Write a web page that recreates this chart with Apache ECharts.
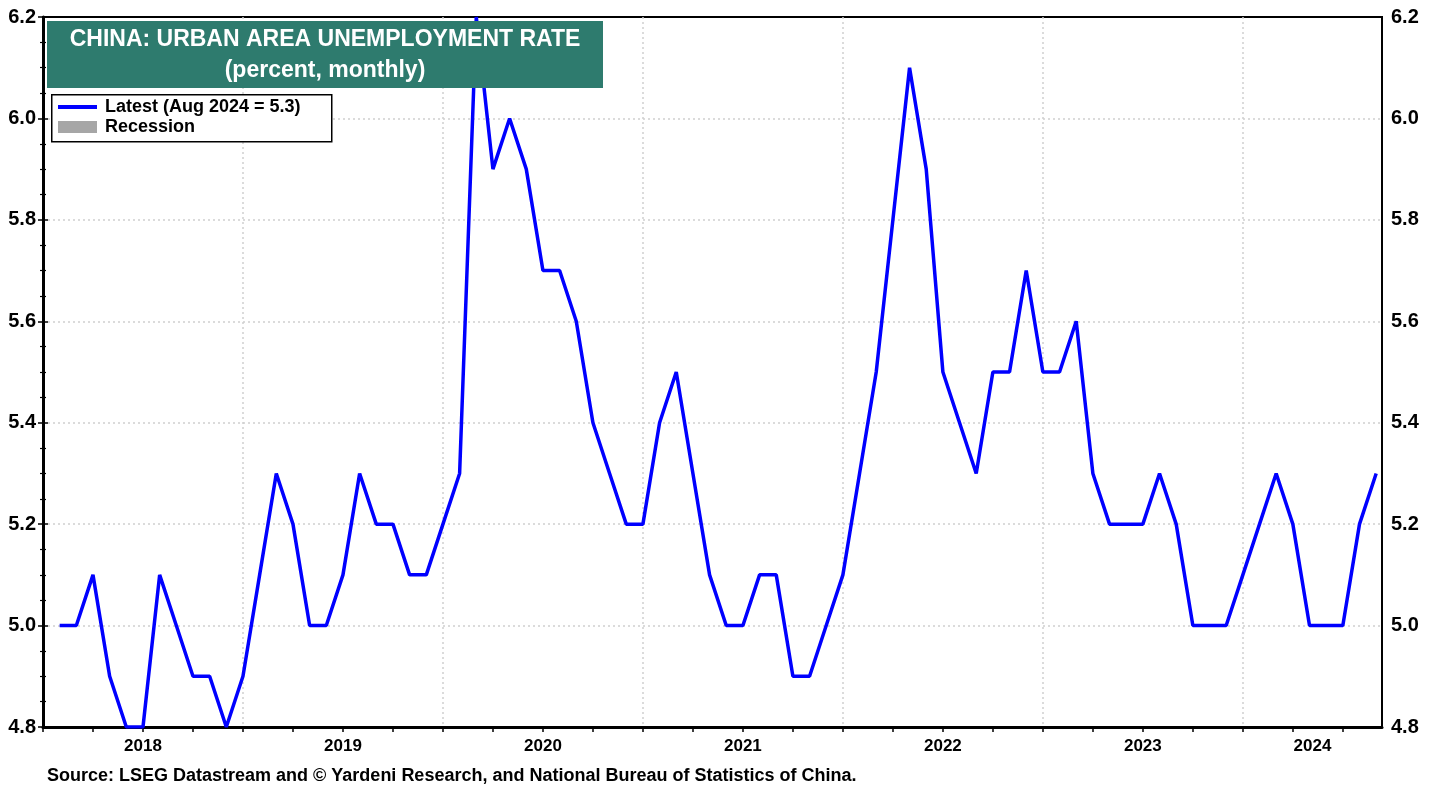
<!DOCTYPE html>
<html>
<head>
<meta charset="utf-8">
<title>China: Urban Area Unemployment Rate</title>
<script src="https://cdn.jsdelivr.net/npm/echarts@6/dist/echarts.min.js"></script>
<style>
    html, body { margin: 0; padding: 0; background: #fff; }
    #chart { width: 1438px; height: 787px; }
</style>
</head>
<body>
<div id="chart"></div>
<script>
// monthly readings, Jan..Dec of each year (2024 runs to Aug)
var years = [2018, 2019, 2020, 2021, 2022, 2023, 2024];
var rate2018 = [5.0, 5.0, 5.1, 4.9, 4.8, 4.8, 5.1, 5.0, 4.9, 4.9, 4.8, 4.9];
var rate2019 = [5.1, 5.3, 5.2, 5.0, 5.0, 5.1, 5.3, 5.2, 5.2, 5.1, 5.1, 5.2];
var rate2020 = [5.3, 6.2, 5.9, 6.0, 5.9, 5.7, 5.7, 5.6, 5.4, 5.3, 5.2, 5.2];
var rate2021 = [5.4, 5.5, 5.3, 5.1, 5.0, 5.0, 5.1, 5.1, 4.9, 4.9, 5.0, 5.1];
var rate2022 = [5.3, 5.5, 5.8, 6.1, 5.9, 5.5, 5.4, 5.3, 5.5, 5.5, 5.7, 5.5];
var rate2023 = [5.5, 5.6, 5.3, 5.2, 5.2, 5.2, 5.3, 5.2, 5.0, 5.0, 5.0, 5.1];
var rate2024 = [5.2, 5.3, 5.2, 5.0, 5.0, 5.0, 5.2, 5.3];
var yTicks = [4.8, 5.0, 5.2, 5.4, 5.6, 5.8, 6.0, 6.2];

var FONT = '"Liberation Sans", Arial, sans-serif';

function yAxisFor(pos, lineWidth, margin, grid) {
    return {
        type: 'value',
        position: pos,
        min: yTicks[0],
        max: yTicks[yTicks.length - 1],
        interval: 0.2,
        axisLine: { show: true, lineStyle: { color: '#000', width: lineWidth } },
        axisTick: { show: true, inside: false, length: 5, lineStyle: { color: '#000', width: 1.5 } },
        minorTick: { show: true, splitNumber: 4, length: 3, lineStyle: { color: '#000', width: 1.2 } },
        axisLabel: {
            margin: margin,
            color: '#000', fontWeight: 'bold', fontSize: 20, fontFamily: FONT,
            formatter: function (v) { return v.toFixed(1); }
        },
        splitLine: { show: grid, showMinLine: false, showMaxLine: false, lineStyle: { color: '#cfcfcf', width: 1.5, type: [2, 3] } }
    };
}

function drawChart() {
    var chart = echarts.init(document.getElementById('chart'));
    var allRates = [rate2018, rate2019, rate2020, rate2021, rate2022, rate2023, rate2024];

    // x = months since Jan 2018, each reading sits at its month end
    var lineData = [];
    for (var i = 0; i < allRates.length; i++) {
        for (var m = 0; m < allRates[i].length; m++) {
            lineData.push([i * 12 + m + 1, allRates[i][m]]);
        }
    }
    var xMax = 80.35;

    var quarterTicks = [];
    for (var q = 0; q <= 78; q += 3) quarterTicks.push(q);
    var labelPos = [];
    for (var k = 0; k < years.length; k++) {
        var a = k * 12, b = Math.min(a + 12, xMax);
        labelPos.push((a + b) / 2);
    }

    var option = {
        animation: false,
        grid: { left: 43, right: 56, top: 17, bottom: 60, show: true, borderColor: '#000', borderWidth: 2 },
        xAxis: [
            {
                type: 'value', min: 0, max: xMax, position: 'bottom',
                axisLine: { show: true, onZero: false, lineStyle: { color: '#000', width: 3 } },
                axisTick: { show: true, customValues: quarterTicks, length: 5, lineStyle: { color: '#000', width: 1.5 } },
                axisLabel: {
                    customValues: labelPos, margin: 11,
                    color: '#000', fontWeight: 'bold', fontSize: 17, fontFamily: FONT,
                    formatter: function (v) { return String(years[0] + Math.floor(v / 12)); }
                },
                splitLine: { show: false }
            },
            {
                // year gridlines only
                type: 'value', min: 0, max: xMax, interval: 12, position: 'bottom',
                axisLine: { show: false }, axisTick: { show: false }, axisLabel: { show: false },
                splitLine: { show: true, showMinLine: false, showMaxLine: false, lineStyle: { color: '#cfcfcf', width: 1.5, type: [2, 3] } }
            }
        ],
        yAxis: [
            yAxisFor('left', 2, 7, true),
            yAxisFor('right', 3, 9, false)
        ],
        series: [
            {
                name: 'Latest',
                type: 'line',
                data: lineData,
                showSymbol: false,
                symbol: 'none',
                lineStyle: { color: '#0000ff', width: 3.5 },
                z: 5
            }
        ],
        graphic: [
            { type: 'rect', left: 47, top: 21, z: 100, shape: { width: 556, height: 67 }, style: { fill: '#2e7b6e' } },
            { type: 'text', x: 325, y: 40, z: 101, style: { text: 'CHINA: URBAN AREA UNEMPLOYMENT RATE', fill: '#fff', font: 'bold 23px ' + FONT, align: 'center', verticalAlign: 'middle' } },
            { type: 'text', x: 325, y: 71, z: 101, style: { text: '(percent, monthly)', fill: '#fff', font: 'bold 23px ' + FONT, align: 'center', verticalAlign: 'middle' } },
            /* legend box */
            { type: 'rect', left: 51, top: 94, z: 100, shape: { width: 280, height: 47 }, style: { fill: '#fff', stroke: '#000', lineWidth: 1.5 } },
            { type: 'line', z: 101, shape: { x1: 58, y1: 107, x2: 97, y2: 107 }, style: { stroke: '#0000ff', lineWidth: 4 } },
            { type: 'rect', left: 58, top: 121, z: 101, shape: { width: 39, height: 12 }, style: { fill: '#a6a6a6' } },
            { type: 'text', x: 105, y: 107, z: 101, style: { text: 'Latest (Aug 2024 = 5.3)', fill: '#000', font: 'bold 18px ' + FONT, verticalAlign: 'middle' } },
            { type: 'text', x: 105, y: 127, z: 101, style: { text: 'Recession', fill: '#000', font: 'bold 18px ' + FONT, verticalAlign: 'middle' } },
            /* source */
            { type: 'text', x: 47, y: 776, z: 101, style: { text: 'Source: LSEG Datastream and \u00a9 Yardeni Research, and National Bureau of Statistics of China.', fill: '#000', font: 'bold 18px ' + FONT, verticalAlign: 'middle' } }
        ]
    };
    chart.setOption(option);
    window.onresize = chart.resize;
}

drawChart();
</script>
</body>
</html>
